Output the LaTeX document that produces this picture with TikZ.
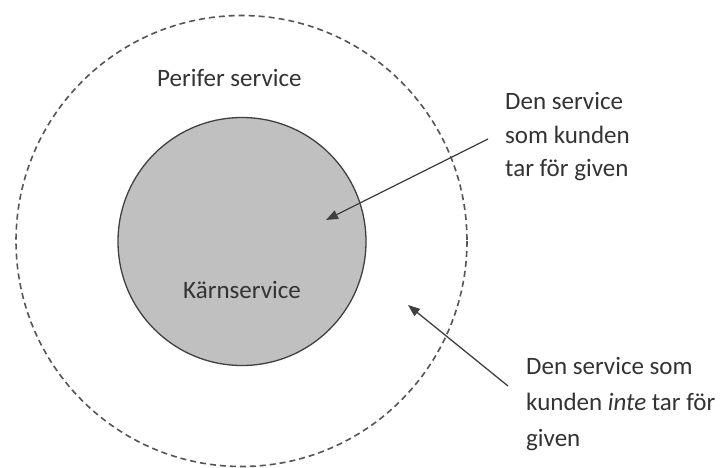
\documentclass[tikz,border=0pt]{standalone}
\usepackage{fontspec}
\setmainfont{Carlito}
\usetikzlibrary{arrows.meta}
\definecolor{inkgray}{HTML}{333333}
\definecolor{linegray}{HTML}{404040}
\definecolor{dashgray}{HTML}{555555}
\definecolor{coregray}{HTML}{C0C0C0}
\begin{document}
\begin{tikzpicture}[x=1pt,y=-1pt,
  lbl/.style={inner sep=0pt,text=inkgray,font=\fontsize{25}{34}\selectfont,align=left},
  outerring/.style={draw=dashgray,line width=1.6pt,dash pattern=on 6pt off 4pt},
  coredisc/.style={draw=linegray,fill=coregray,line width=1.3pt},
  pointer/.style={draw=linegray,line width=1.3pt,-{Triangle[length=12pt,width=9pt]}}]
\useasboundingbox (0,0) rectangle (721,467);
\fill[white] (0,0) rectangle (721,467);
\draw[outerring] (241.5,241) circle[radius=225.5];
\draw[coredisc] (242,241.5) circle[radius=124];
\node[lbl,anchor=base west] (perifer) at (157,86) {Perifer service};
\node[lbl,anchor=base] (karn) at (242,298) {Kärnservice};
\node[lbl,anchor=base west] (t1a) at (505,109) {Den service};
\node[lbl,anchor=base west] (t1b) at (505,143) {som kunden};
\node[lbl,anchor=base west] (t1c) at (505,176) {tar för given};
\node[lbl,anchor=base west] (t2a) at (526,374) {Den service som};
\node[lbl,anchor=base west] (t2b) at (526,410) {kunden \textit{inte} tar för};
\node[lbl,anchor=base west] (t2c) at (526,446) {given};
\coordinate (a1s) at (488,139);
\coordinate (a1e) at (326,220);
\coordinate (a2s) at (508,386);
\coordinate (a2e) at (408,305);
\draw[pointer] (a1s) -- (a1e);
\draw[pointer] (a2s) -- (a2e);
\end{tikzpicture}
\end{document}
